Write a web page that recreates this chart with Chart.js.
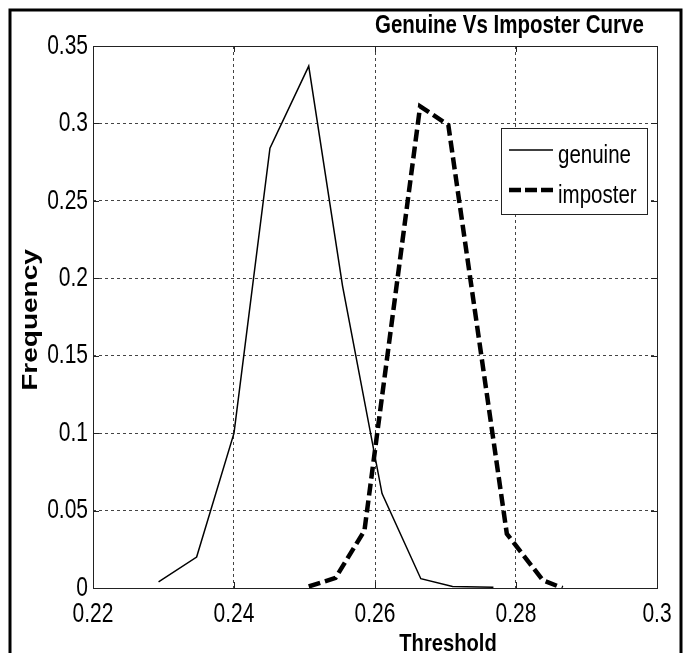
<!DOCTYPE html>
<html>
<head>
<meta charset="utf-8">
<title>Genuine Vs Imposter Curve</title>
<script src="https://cdn.jsdelivr.net/npm/chart.js@4.4.0/dist/chart.umd.min.js"></script>
<style>
  html, body { margin: 0; padding: 0; background: #fff; overflow: hidden; }
  #wrap { position: relative; width: 688px; height: 653px; }
</style>
</head>
<body>
<div id="wrap"><canvas id="chart" width="688" height="653"></canvas></div>
<script>
// axis ranges / ticks
const xMin = 0.22, xMax = 0.3, xStep = 0.02;
const yMin = 0, yMax = 0.35, yStep = 0.05;

// genuine curve (thin solid)
const genuineX = [0.2293, 0.2347, 0.2400, 0.2451, 0.2506, 0.2554, 0.2610, 0.2665, 0.2710, 0.2768];
const genuineY = [0.004, 0.020, 0.100, 0.284, 0.337, 0.195, 0.061, 0.006, 0.001, 0.0005];

// imposter curve (thick dashed)
const imposterX = [0.2506, 0.2544, 0.2585, 0.2664, 0.2704, 0.2787, 0.2838, 0.2866];
const imposterY = [0.001, 0.0065, 0.037, 0.311, 0.299, 0.035, 0.005, 0.000];

const seriesNames = ["genuine", "imposter"];
const chartTitle = "Genuine Vs Imposter Curve";
const xTitle = "Threshold";
const yTitle = "Frequency";

const family = "'Liberation Sans', Arial, sans-serif";
const axisColor = "#222";

const toPoints = (xs, ys) => xs.map((x, i) => ({ x, y: ys[i] }));
const fmt = v => String(Number(v.toFixed(2)));

// the picture is squashed sideways, so text is drawn narrowed
function squashText(ctx, text, x, y, font, sx, align, baseline) {
  ctx.save();
  ctx.translate(x, y);
  ctx.scale(sx, 1);
  ctx.font = font;
  ctx.textAlign = align;
  ctx.textBaseline = baseline;
  ctx.fillStyle = "#000";
  ctx.fillText(text, 0, 0);
  ctx.restore();
}

// box, inward ticks, tick labels, titles and legend drawn MATLAB-style
const matlabDecor = {
  id: "matlabDecor",
  afterDraw(chart) {
    const { ctx, chartArea: a, scales } = chart;
    ctx.save();

    // outer figure frame
    ctx.strokeStyle = "#000";
    ctx.lineWidth = 3;
    ctx.strokeRect(10, 10, 671, 700);

    // axes box
    ctx.strokeStyle = axisColor;
    ctx.lineWidth = 1;
    ctx.strokeRect(a.left + 0.5, a.top + 0.5, a.right - a.left, a.bottom - a.top);

    // inward ticks
    ctx.beginPath();
    scales.x.ticks.forEach(t => {
      const px = Math.round(scales.x.getPixelForValue(t.value)) + 0.5;
      ctx.moveTo(px, a.bottom); ctx.lineTo(px, a.bottom - 6);
      ctx.moveTo(px, a.top); ctx.lineTo(px, a.top + 6);
    });
    scales.y.ticks.forEach(t => {
      const py = Math.round(scales.y.getPixelForValue(t.value)) + 0.5;
      ctx.moveTo(a.left, py); ctx.lineTo(a.left + 6, py);
      ctx.moveTo(a.right, py); ctx.lineTo(a.right - 6, py);
    });
    ctx.stroke();

    // tick labels
    const tickFont = "28px " + family;
    scales.x.ticks.forEach(t => {
      squashText(ctx, fmt(t.value), scales.x.getPixelForValue(t.value), 622, tickFont, 0.75, "center", "alphabetic");
    });
    scales.y.ticks.forEach(t => {
      squashText(ctx, fmt(t.value), a.left - 5, scales.y.getPixelForValue(t.value), tickFont, 0.75, "right", "middle");
    });

    // title and x label
    squashText(ctx, chartTitle, 375, 33, "bold 25px " + family, 0.82, "left", "alphabetic");
    squashText(ctx, xTitle, 448, 651, "bold 24px " + family, 0.84, "center", "alphabetic");

    // y label (rotated, squashed)
    ctx.save();
    ctx.translate(37, 320);
    ctx.rotate(-Math.PI / 2);
    ctx.scale(1, 0.78);
    ctx.font = "bold 28px " + family;
    ctx.textAlign = "center";
    ctx.fillStyle = "#000";
    ctx.fillText(yTitle, 0, 0);
    ctx.restore();

    // legend
    const lx = 501, ly = 128, lw = 146, lh = 86;
    ctx.fillStyle = "#fff";
    ctx.fillRect(lx, ly, lw, lh);
    ctx.strokeStyle = axisColor;
    ctx.lineWidth = 1;
    ctx.strokeRect(lx + 0.5, ly + 0.5, lw, lh);

    chart.data.datasets.forEach((ds, i) => {
      const yy = 150 + i * 40;
      ctx.strokeStyle = ds.borderColor;
      ctx.lineWidth = ds.borderWidth;
      ctx.setLineDash(i === 1 ? [12, 4] : []);
      ctx.beginPath();
      ctx.moveTo(509, yy);
      ctx.lineTo(553, yy);
      ctx.stroke();
      ctx.setLineDash([]);
      squashText(ctx, ds.label, 558, yy + 13, "25px " + family, 0.82, "left", "alphabetic");
    });

    ctx.restore();
  }
};

new Chart(document.getElementById("chart"), {
  type: "line",
  data: {
    datasets: [
      {
        label: seriesNames[0],
        data: toPoints(genuineX, genuineY),
        borderColor: "#000",
        borderWidth: 1.5,
        pointRadius: 0,
        tension: 0,
        fill: false
      },
      {
        label: seriesNames[1],
        data: toPoints(imposterX, imposterY),
        borderColor: "#000",
        borderWidth: 4.5,
        borderDash: [12, 5],
        pointRadius: 0,
        tension: 0,
        fill: false
      }
    ]
  },
  options: {
    responsive: false,
    animation: false,
    devicePixelRatio: 1,
    layout: { padding: { top: 46, right: 31, left: 0, bottom: 0 } },
    plugins: {
      legend: { display: false },
      title: { display: false },
      tooltip: { enabled: false }
    },
    scales: {
      x: {
        type: "linear",
        min: xMin,
        max: xMax,
        afterFit: s => { s.height = 65; },
        border: { display: false, dash: [3, 3] },
        grid: { color: "#444", lineWidth: 1, drawTicks: false },
        ticks: { stepSize: xStep, display: false }
      },
      y: {
        min: yMin,
        max: yMax,
        afterFit: s => { s.width = 93; },
        border: { display: false, dash: [3, 3] },
        grid: { color: "#444", lineWidth: 1, drawTicks: false },
        ticks: { stepSize: yStep, display: false }
      }
    }
  },
  plugins: [matlabDecor]
});
</script>
</body>
</html>
